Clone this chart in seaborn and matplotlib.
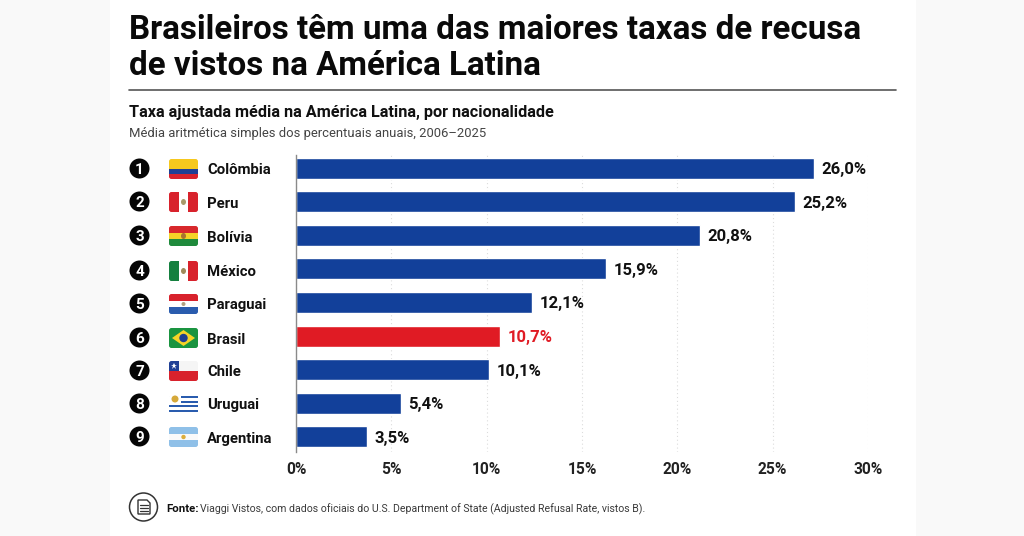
import matplotlib
matplotlib.use("Agg")
import matplotlib.pyplot as plt
import matplotlib.patches as mp
import pandas as pd
import seaborn as sns

countries = ["Colômbia", "Peru", "Bolívia", "México", "Paraguai", "Brasil", "Chile", "Uruguai", "Argentina"]
# bar lengths as drawn against the printed axis
bar_lengths = [27.15, 26.15, 21.2, 16.25, 12.4, 10.7, 10.1, 5.5, 3.7]
value_labels = ["26,0%", "25,2%", "20,8%", "15,9%", "12,1%", "10,7%", "10,1%", "5,4%", "3,5%"]
tick_values = [0, 5, 10, 15, 20, 25, 30]
tick_labels = ["0%", "5%", "10%", "15%", "20%", "25%", "30%"]
highlight = "Brasil"
title_lines = ["Brasileiros têm uma das maiores taxas de recusa", "de vistos na América Latina"]
subtitle = "Taxa ajustada média na América Latina, por nacionalidade"
note = "Média aritmética simples dos percentuais anuais, 2006–2025"
source_bold = "Fonte:"
source_rest = "Viaggi Vistos, com dados oficiais do U.S. Department of State (Adjusted Refusal Rate, vistos B)."

W, H = 1024, 536
BLUE, RED, INK = "#12409a", "#e01b24", "#111111"
sns.set_theme(style="white")
plt.rcParams["font.family"] = ["Roboto", "DejaVu Sans"]

fig = plt.figure(figsize=(W / 100, H / 100), dpi=100, facecolor="#f9f9f9")

# page layer in pixel coordinates
bg = fig.add_axes([0, 0, 1, 1], zorder=0)
bg.set_xlim(0, W); bg.set_ylim(H, 0); bg.axis("off")
bg.add_patch(mp.Rectangle((110, 0), 806, H, fc="white", ec="none"))

# chart
L, R, T, B = 296, 868, 155, 452
ax = fig.add_axes([L / W, 1 - B / H, (R - L) / W, (B - T) / H], zorder=1)
ax.patch.set_alpha(0)
df = pd.DataFrame({"country": countries, "value": bar_lengths})
sns.barplot(data=df, x="value", y="country", hue="country", legend=False, dodge=False,
            palette={c: (RED if c == highlight else BLUE) for c in countries},
            width=0.63, saturation=1, ax=ax)
ax.set_xlim(0, 30)
ax.set_ylim(8.45, -0.39)
ax.set_xlabel(""); ax.set_ylabel("")
ax.set_xticks(tick_values, tick_labels, fontsize=11.2, fontweight="bold", color="#222222")
ax.set_yticks([])
ax.tick_params(axis="x", length=0, pad=7)
ax.xaxis.grid(True, color="#dcdcdc", lw=0.8, ls=(0, (1, 2.5)))
ax.set_axisbelow(True)
for s in ("top", "right", "bottom"):
    ax.spines[s].set_visible(False)
ax.spines["left"].set_color("#8a8a8a")
ax.spines["left"].set_linewidth(1.0)
for i, (v, t, c) in enumerate(zip(bar_lengths, value_labels, countries)):
    ax.annotate(t, (v, i), xytext=(5.5, 0), textcoords="offset points", va="center_baseline", ha="left",
                fontsize=12, fontweight="bold", color=RED if c == highlight else INK)

# overlay in pixel coordinates
ov = fig.add_axes([0, 0, 1, 1], zorder=2)
ov.set_xlim(0, W); ov.set_ylim(H, 0); ov.axis("off"); ov.patch.set_alpha(0)

ov.text(129, 30, title_lines[0], fontsize=23.85, fontweight="bold", color="#0a0a0a", va="center", ha="left")
ov.text(129, 66, title_lines[1], fontsize=23.85, fontweight="bold", color="#0a0a0a", va="center", ha="left")
ov.plot([129, 896], [90, 90], color="#555555", lw=1.2)
ov.text(129, 113, subtitle, fontsize=11.7, fontweight="bold", color=INK, va="center", ha="left")
ov.text(129, 133, note, fontsize=9.4, color="#444444", va="center", ha="left")

ys = [169, 202, 236, 271, 304, 338, 371, 404, 437]
FX, FW, FH = 169, 29, 20


def flag(y):
    """rounded clip rectangle for one flag, centred on row y"""
    clip = mp.FancyBboxPatch((FX + 2, y - FH / 2 + 2), FW - 4, FH - 4,
                             boxstyle="round,pad=2,rounding_size=2.5", fc="none", ec="none")
    ov.add_patch(clip)
    return clip


def bands(y, spec, horizontal=True):
    clip = flag(y)
    total = sum(s for s, _ in spec)
    pos = 0
    for s, col in spec:
        if horizontal:
            r = mp.Rectangle((FX, y - FH / 2 + FH * pos / total), FW, FH * s / total, fc=col, ec="none")
        else:
            r = mp.Rectangle((FX + FW * pos / total, y - FH / 2), FW * s / total, FH, fc=col, ec="none")
        ov.add_patch(r); r.set_clip_path(clip)
        pos += s
    return clip


def dot(x, y, rx, ry, col, clip=None):
    e = mp.Ellipse((x, y), rx * 2, ry * 2, fc=col, ec="none")
    ov.add_patch(e)
    if clip is not None:
        e.set_clip_path(clip)


cx = FX + FW / 2
bands(ys[0], [(2, "#f6c81e"), (1, "#1f3f95"), (1, "#d8222c")])
bands(ys[1], [(1, "#d8222c"), (1, "#ffffff"), (1, "#d8222c")], horizontal=False)
dot(cx, ys[1], 2.5, 3, "#a89a6a")
bands(ys[2], [(1, "#d8282c"), (1, "#f5d327"), (1, "#1f8a3c")])
dot(cx, ys[2], 2.5, 3, "#a8752e")
bands(ys[3], [(1, "#15803f"), (1, "#ffffff"), (1, "#d8222c")], horizontal=False)
dot(cx, ys[3], 2.5, 3, "#a08a5a")
bands(ys[4], [(1, "#d8222c"), (1, "#ffffff"), (1, "#2a5cae")])
dot(cx, ys[4], 2, 2, "#b0a080")
c = bands(ys[5], [(1, "#1a9440")])
ov.add_patch(mp.Polygon([(FX + 3, ys[5]), (cx, ys[5] - 8), (FX + FW - 3, ys[5]), (cx, ys[5] + 8)], fc="#f5d327", ec="none"))
dot(cx, ys[5], 4.2, 4.2, "#1f3f8f")
c = bands(ys[6], [(1, "#f5f5f5"), (1, "#d8222c")])
r = mp.Rectangle((FX, ys[6] - FH / 2), 10, FH / 2, fc="#1f3f95", ec="none"); ov.add_patch(r); r.set_clip_path(c)
ov.plot([FX + 5], [ys[6] - 5], marker="*", ms=5, color="white", mew=0)
c = bands(ys[7], [(1, "#ffffff"), (1, "#2a5cae"), (1, "#ffffff"), (1, "#2a5cae"), (1, "#ffffff"), (1, "#2a5cae"), (1, "#ffffff"), (1, "#2a5cae"), (1, "#ffffff")])
r = mp.Rectangle((FX, ys[7] - FH / 2), 12, FH * 5 / 9, fc="white", ec="none"); ov.add_patch(r); r.set_clip_path(c)
dot(FX + 6, ys[7] - 5, 3.5, 3.5, "#d6a93a")
bands(ys[8], [(1, "#8fc0e8"), (1, "#fafafa"), (1, "#8fc0e8")])
dot(cx, ys[8], 2.2, 2.2, "#dcae3c")

for i, (y, name) in enumerate(zip(ys, countries)):
    ov.add_patch(mp.Circle((139.5, y - 0.5), 10, fc="#050505", ec="none"))
    ov.text(139.5, y - 0.5, str(i + 1), color="white", fontsize=11, fontweight="bold", ha="center", va="center_baseline")
    ov.text(207, y, name, color=INK, fontsize=10.7, fontweight="bold", ha="left", va="center_baseline")

# footer icon
ov.add_patch(mp.Circle((143.5, 507), 14, fc="white", ec="#333333", lw=1.1))
ov.add_patch(mp.Polygon([(138, 500), (147, 500), (150, 503), (150, 514), (138, 514)], fc="white", ec="#333333", lw=1.0))
for yy in (505, 508, 511):
    ov.plot([140, 148], [yy, yy], color="#333333", lw=0.9)

ov.text(166, 508, source_bold, fontsize=8.2, fontweight="bold", color=INK, ha="left", va="center_baseline")
ov.text(199.5, 508, source_rest, fontsize=7.55, color="#3a3a3a", ha="left", va="center_baseline")

fig.savefig("out.png", dpi=100, facecolor=fig.get_facecolor())
